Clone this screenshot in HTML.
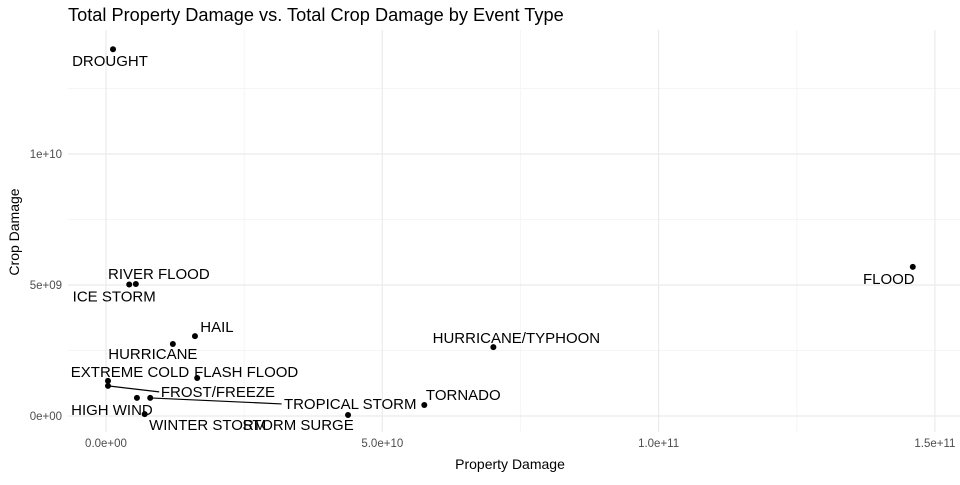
<!DOCTYPE html>
<html><head><meta charset="utf-8"><style>
body{margin:0;background:#fff;font-family:"Liberation Sans",sans-serif}
</style></head><body>
<svg id="chart" width="960" height="480" xmlns="http://www.w3.org/2000/svg" font-family="Liberation Sans, sans-serif">
<text x="68" y="21" font-size="18.2" fill="#000">Total Property Damage vs. Total Crop Damage by Event Type</text>
<text x="510" y="469" font-size="14" text-anchor="middle">Property Damage</text>
<text transform="translate(19,232) rotate(-90)" font-size="14" text-anchor="middle">Crop Damage</text>
<g id="grid"></g><g id="marks"></g><g id="labels"></g>
</svg>
<script>
const events=["DROUGHT","FLOOD","RIVER FLOOD","ICE STORM","HAIL","HURRICANE","HURRICANE/TYPHOON","FLASH FLOOD","EXTREME COLD","FROST/FREEZE","HIGH WIND","TROPICAL STORM","TORNADO","WINTER STORM","STORM SURGE"];
const propDamage=[1.27e9,1.46e11,5.4e9,4.2e9,1.61e10,1.21e10,7.01e10,1.65e10,0.36e9,0.36e9,5.6e9,8.0e9,5.76e10,7.0e9,4.38e10];
const cropDamage=[1.40e10,5.69e9,5.04e9,5.02e9,3.05e9,2.75e9,2.63e9,1.45e9,1.34e9,1.15e9,0.69e9,0.69e9,0.42e9,0.07e9,0.04e9];
const xTicks=[0,5e10,1e11,1.5e11];
const xTickLabels=["0.0e+00","5.0e+10","1.0e+11","1.5e+11"];
const yTicks=[0,5e9,1e10];
const yTickLabels=["0e+00","5e+09","1e+10"];
// label offsets (pixels, style only)
const labelDx=[-3,-24,23,-15,22,-20,23,49,22,110,-25,200,39,63,-50];
const labelDy=[12,12,-10,12,-9,10,-9,-6,-9,6,12,6,-10,11,10];
const conn=[false,false,false,false,false,false,false,false,false,true,false,true,false,false,false];
const L=68,R=960,T=30,B=432;
const x=v=>106+v/5e10*276.3;
const y=v=>416-v/5e9*131;
const NS="http://www.w3.org/2000/svg";
const g=document.getElementById('grid'),m=document.getElementById('marks'),lb=document.getElementById('labels');
function el(t,a,p){const e=document.createElementNS(NS,t);for(const k in a)e.setAttribute(k,a[k]);p.appendChild(e);return e;}
[2.5e10,7.5e10,1.25e11].forEach(v=>{const l=el('line',{x1:x(v),x2:x(v),y1:T,y2:B,stroke:'#f5f5f5','stroke-width':1},g);});
[2.5e9,7.5e9,1.25e10].forEach(v=>{const l=el('line',{x1:L,x2:R,y1:y(v),y2:y(v),stroke:'#f5f5f5','stroke-width':1},g);});
xTicks.forEach((v,i)=>{const l=el('line',{x1:x(v),x2:x(v),y1:T,y2:B,stroke:'#ebebeb','stroke-width':1.2},g);
const t=el('text',{x:x(v),y:447,'font-size':11.5,fill:'#4d4d4d','text-anchor':'middle'},g);t.textContent=xTickLabels[i];});
yTicks.forEach((v,i)=>{const l=el('line',{x1:L,x2:R,y1:y(v),y2:y(v),stroke:'#ebebeb','stroke-width':1.2},g);
const t=el('text',{x:62,y:y(v)+4,'font-size':11.5,fill:'#4d4d4d','text-anchor':'end'},g);t.textContent=yTickLabels[i];});
events.forEach((n,i)=>{const px=x(propDamage[i]),py=y(cropDamage[i]);
const c=el('circle',{cx:px,cy:py,r:3,fill:'#000'},m);
const lx=px+labelDx[i],ly=py+labelDy[i];
if(conn[i]){const w=n.length*4.9;const s=el('line',{x1:px,y1:py,x2:lx-w,y2:ly,stroke:'#000','stroke-width':1.2},m);}
const t=el('text',{x:lx,y:ly+5,'font-size':15,'text-anchor':'middle',fill:'#000'},lb);t.textContent=n;});
</script>
</body></html>
